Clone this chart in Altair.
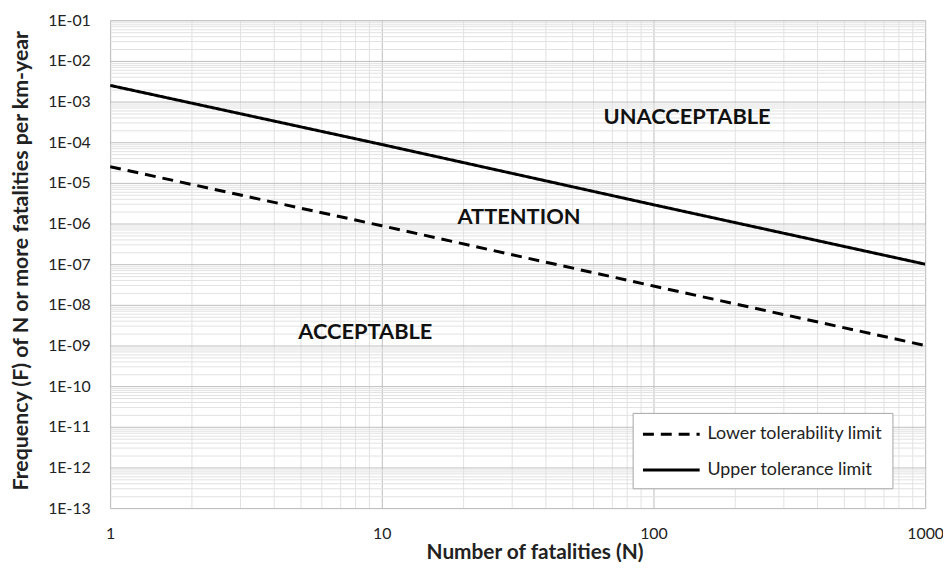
import altair as alt
import pandas as pd

# ---- data ----
N = [1, 10, 100, 1000]
upper_F = [2.5e-3, 8.8e-5, 2.9e-6, 1.0e-7]
lower_F = [2.5e-5, 8.8e-7, 2.9e-8, 1.0e-9]
series_names = ["Lower tolerability limit", "Upper tolerance limit"]

zone_labels = ["UNACCEPTABLE", "ATTENTION", "ACCEPTABLE"]
zone_N = [133, 32, 8.7]
zone_F = [4.1e-4, 1.46e-6, 2.2e-9]

x_mantissas = [1, 2, 3, 4, 5, 6, 7, 8, 9]
x_exponents = [0, 1, 2]
y_exponents = list(range(-13, -1))

x_ticks = [m * 10 ** e for e in x_exponents for m in x_mantissas] + [1000]
y_ticks = [float(f"{m}e{e}") for e in y_exponents for m in x_mantissas] + [1e-1]

lines = pd.DataFrame(
    {"N": N * 2,
     "F": lower_F + upper_F,
     "series": [series_names[0]] * len(N) + [series_names[1]] * len(N)}
)
zones = pd.DataFrame({"label": zone_labels, "N": zone_N, "F": zone_F})

FONT = "Lato"
major = "abs(log(datum.value)/LN10 - round(log(datum.value)/LN10)) < 0.001"
grid_color = {"condition": {"test": major, "value": "#bdbdbd"}, "value": "#e2e2e2"}

x_scale = alt.Scale(type="log", domain=[1, 1000], nice=False)
y_scale = alt.Scale(type="log", domain=[1e-13, 1e-1], nice=False)

x_axis = alt.Axis(
    values=x_ticks,
    labelExpr=f"({major}) ? format(datum.value, 'd') : ''",
    grid=True, gridColor=grid_color, gridWidth=1,
    ticks=False, domain=False,
    labelFont=FONT, labelFontSize=16, labelColor="#222222",
    labelPadding=18, labelOverlap=False, labelFlush=False,
    title="Number of fatalities (N)", titleFont=FONT, titleFontSize=21,
    titleFontWeight="bold", titleColor="#222222", titlePadding=0, titleX=428,
)
y_axis = alt.Axis(
    values=y_ticks,
    labelExpr=(f"({major}) ? '1E-' + (round(-log(datum.value)/LN10) < 10 ? '0' : '')"
               " + round(-log(datum.value)/LN10) : ''"),
    grid=True, gridColor=grid_color, gridWidth=1,
    ticks=False, domain=False,
    labelFont=FONT, labelFontSize=16, labelColor="#222222",
    labelPadding=20, labelOverlap=False, labelFlush=False,
    title="Frequency (F) of N or more fatalities per km-year", titleFont=FONT,
    titleFontSize=21.5, titleFontWeight="bold", titleColor="#222222", titlePadding=15,
    titleY=242,
)

line_layer = alt.Chart(lines).mark_line(color="black", strokeWidth=3, clip=True).encode(
    x=alt.X("N:Q", scale=x_scale, axis=x_axis),
    y=alt.Y("F:Q", scale=y_scale, axis=y_axis),
    strokeDash=alt.StrokeDash(
        "series:N",
        scale=alt.Scale(domain=series_names, range=[[11, 7], [1, 0]]),
        legend=alt.Legend(
            title=None, orient="none", legendX=527, legendY=396,
            fillColor="white", strokeColor="#a6a6a6", padding=9,
            symbolType="M-2.6,0H2.6", symbolSize=484, symbolStrokeWidth=3,
            symbolStrokeColor="black", symbolOffset=17.5,
            labelFont=FONT, labelFontSize=18,
            labelColor="#222222", labelOffset=24, rowPadding=14, labelLimit=0,
        ),
    ),
    detail="series:N",
)

text_layer = alt.Chart(zones).mark_text(
    font=FONT, fontSize=22, fontWeight="bold", color="#111111"
).encode(
    x=alt.X("N:Q", scale=x_scale),
    y=alt.Y("F:Q", scale=y_scale),
    text="label:N",
)

chart = alt.layer(line_layer, text_layer).properties(
    width=822, height=492,
    autosize=alt.AutoSizeParams(type="none"),
    padding={"left": 103, "top": 10, "right": 18, "bottom": 53},
).configure_view(stroke="#a6a6a6", strokeWidth=1).configure(background="white")

chart.save("out.html", embed_options={"renderer": "svg", "actions": False})
